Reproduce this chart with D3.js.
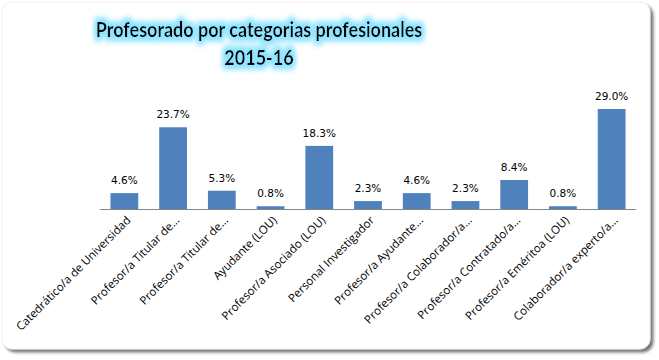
<!DOCTYPE html>
<html>
<head>
<meta charset="utf-8">
<script src="https://cdn.jsdelivr.net/npm/d3@7"></script>
<style>
  body { margin: 0; background: #fff; }
  svg { display: block; }
</style>
</head>
<body>
<svg id="chart" width="659" height="360"></svg>
<script>
// chart data
var categories = [
  "Catedrático/a de Universidad",
  "Profesor/a Titular de…",
  "Profesor/a Titular de…",
  "Ayudante (LOU)",
  "Profesor/a Asociado (LOU)",
  "Personal Investigador",
  "Profesor/a Ayudante…",
  "Profesor/a Colaborador/a…",
  "Profesor/a Contratado/a…",
  "Profesor/a Eméritoa (LOU)",
  "Colaborador/a experto/a…"
];
var values = [4.6, 23.7, 5.3, 0.8, 18.3, 2.3, 4.6, 2.3, 8.4, 0.8, 29.0];
var titleLines = ["Profesorado por categorias profesionales", "2015-16"];

var svg = d3.select("#chart");
var defs = svg.append("defs");

// soft shadow for the chart frame
var shadow = defs.append("filter").attr("id", "frameShadow")
    .attr("x", "-5%").attr("y", "-5%").attr("width", "110%").attr("height", "110%");
shadow.append("feGaussianBlur").attr("in", "SourceAlpha").attr("stdDeviation", 1.5);
shadow.append("feOffset").attr("dx", 3).attr("dy", 3).attr("result", "off");
shadow.append("feComponentTransfer").append("feFuncA").attr("type", "linear").attr("slope", 0.55);
var sm = shadow.append("feMerge");
sm.append("feMergeNode");
sm.append("feMergeNode").attr("in", "SourceGraphic");

// cyan glow behind the title
var glow = defs.append("filter").attr("id", "titleGlow")
    .attr("x", "-10%").attr("y", "-40%").attr("width", "120%").attr("height", "180%");
glow.append("feMorphology").attr("in", "SourceAlpha").attr("operator", "dilate").attr("radius", 2.5).attr("result", "d");
glow.append("feGaussianBlur").attr("in", "d").attr("stdDeviation", 3).attr("result", "b");
glow.append("feFlood").attr("flood-color", "#8fe4ff").attr("flood-opacity", 1);
glow.append("feComposite").attr("in2", "b").attr("operator", "in").attr("result", "g");
var gm = glow.append("feMerge");
gm.append("feMergeNode").attr("in", "g");
gm.append("feMergeNode").attr("in", "g");
gm.append("feMergeNode").attr("in", "SourceGraphic");

svg.append("rect")
    .attr("x", 2).attr("y", 2)
    .attr("width", 648).attr("height", 347)
    .attr("rx", 10)
    .attr("fill", "#fff")
    .attr("stroke", "#ececec")
    .attr("stroke-width", 0.8)
    .attr("filter", "url(#frameShadow)");

// title
var title = svg.append("text")
    .attr("text-anchor", "middle")
    .attr("font-family", "Lato, 'Open Sans', sans-serif")
    .attr("font-weight", "bold")
    .attr("font-size", 20)
    .attr("fill", "#000")
    .attr("filter", "url(#titleGlow)")
    .attr("transform", "translate(259,0) scale(0.9,1)");
title.selectAll("tspan")
    .data(titleLines)
  .enter().append("tspan")
    .attr("x", 0)
    .attr("y", (d, i) => 37 + i * 28)
    .text(d => d);

// scales
var x = d3.scaleBand()
    .domain(d3.range(categories.length))
    .range([100, 636])
    .paddingInner(0.43)
    .paddingOuter(0.215);

var y = d3.scaleLinear()
    .domain([0, 35])
    .range([209, 88.3]);

// bars
svg.selectAll(".bar")
    .data(values)
  .enter().append("rect")
    .attr("class", "bar")
    .attr("x", (d, i) => x(i))
    .attr("y", d => y(d))
    .attr("width", x.bandwidth())
    .attr("height", d => y(0) - y(d))
    .attr("fill", "#4f81bd");

// value labels
svg.selectAll(".val")
    .data(values)
  .enter().append("text")
    .attr("class", "val")
    .attr("x", (d, i) => x(i) + x.bandwidth() / 2)
    .attr("y", d => y(d) - 9)
    .attr("text-anchor", "middle")
    .attr("font-family", "'DejaVu Sans', sans-serif")
    .attr("font-size", 10.5)
    .attr("fill", "#000")
    .text(d => d.toFixed(1) + "%");

// x axis
var axis = svg.append("g")
    .attr("transform", "translate(0," + y(0) + ")")
    .call(d3.axisBottom(x).tickSize(0).tickFormat(i => categories[i]));
axis.select(".domain").attr("stroke", "#868686").attr("d", "M100,0.5H636");
axis.selectAll("text")
    .attr("font-family", "'Open Sans', sans-serif")
    .attr("font-size", 11.5)
    .attr("fill", "#000")
    .attr("text-anchor", "end")
    .attr("dy", null)
    .attr("y", 0)
    .attr("transform", "translate(7,12) rotate(-45)");
</script>
</body>
</html>
